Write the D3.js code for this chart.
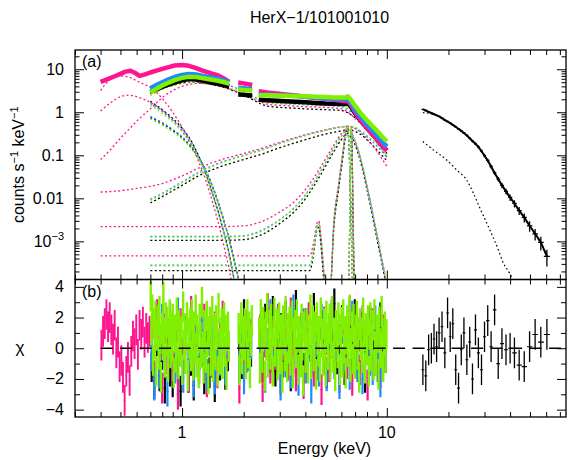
<!DOCTYPE html>
<html><head><meta charset="utf-8">
<script src="https://cdn.jsdelivr.net/npm/d3@7"></script>
<style>
body{margin:0;background:#fff}
svg{display:block}
text{font-family:"Liberation Sans",Arial,Helvetica,sans-serif;fill:#000}
</style></head>
<body><svg id="c" width="568" height="460"></svg>
<script>
// ---------------- DATA ----------------
const colors = {black:"#000000", pink:"#ff1490", blue:"#1a8cff", green:"#80f000"};
const drawOrder = ["black","pink","blue","green"];

// XIS spectra (counts s^-1 keV^-1); null = gap in data
const xisE = [0.40,0.43,0.46,0.50,0.53,0.56,0.59,0.62,0.66,0.70,0.75,0.80,0.86,0.92,1.00,1.08,1.17,1.27,1.38,1.50,1.60,1.70,1.79,1.88,2.00,2.10,2.20,2.28,2.37,2.60,2.90,3.20,3.60,4.00,4.50,5.00,5.50,6.00,6.30,6.45,6.70,7.00,7.50,8.00,8.50,9.00,9.50,10.0];
const pinkData  = [5.1,5.8,6.6,7.8,8.8,9.2,8.2,7.0,7.6,8.4,9.3,10.2,11.2,12.2,12.6,12.0,10.6,9.2,8.1,7.2,6.1,5.1,null,4.9,4.7,4.5,4.3,null,3.1,2.9,2.75,2.6,2.45,2.3,2.15,2.05,1.95,1.85,1.8,1.85,1.45,1.0,0.64,0.43,0.31,0.23,0.17,0.13];
const blueData  = [null,null,null,null,null,null,null,null,null,3.6,4.3,5.0,5.8,6.6,7.4,7.8,7.6,7.0,6.5,6.0,5.5,5.0,null,3.7,3.6,3.5,3.4,null,2.6,2.55,2.5,2.45,2.4,2.3,2.2,2.1,2.05,2.0,2.0,2.1,1.6,1.15,0.75,0.52,0.38,0.28,0.21,0.16];
const greenData = [null,null,null,null,null,null,null,null,null,2.9,3.5,4.2,4.9,5.6,6.3,6.7,6.6,6.2,5.8,5.4,5.0,4.6,null,3.4,3.3,3.25,3.2,null,2.5,2.5,2.45,2.42,2.4,2.35,2.3,2.25,2.2,2.2,2.2,2.35,1.9,1.4,0.92,0.65,0.48,0.36,0.27,0.21];
const blackData = [null,null,null,null,null,null,null,null,null,3.0,3.4,3.9,4.4,4.9,5.5,5.9,5.8,5.4,5.0,4.6,4.3,4.0,null,2.6,2.55,2.5,2.45,null,1.95,1.9,1.85,1.8,1.75,1.7,1.65,1.6,1.58,1.55,1.55,1.65,1.3,0.95,0.62,0.43,0.31,0.23,0.17,0.13];

// model components, rows: [E, pink, blue, green, black]
const compPL = [
 [0.40,0.08,null,null,null],[0.45,0.14,null,null,null],[0.50,0.25,null,null,null],[0.55,0.40,null,null,null],[0.60,0.62,null,null,null],
 [0.70,1.2,2.9,2.4,2.7],[0.80,2.2,4.0,3.4,3.6],[0.90,3.2,4.8,4.1,4.3],[1.00,4.0,5.4,4.6,4.8],[1.10,4.5,5.7,4.9,5.0],
 [1.20,4.7,5.7,4.95,4.9],[1.40,4.4,5.2,4.6,4.4],[1.60,3.8,4.5,4.0,3.8],[1.80,3.2,3.8,3.4,3.1],[2.00,2.6,3.0,2.8,2.5],
 [2.20,2.1,2.4,2.3,2.0],[2.40,1.75,1.95,1.9,1.6],[2.60,1.55,1.7,1.7,1.4],[3.00,1.45,1.6,1.6,1.3],[3.50,1.4,1.55,1.55,1.25],
 [4.00,1.35,1.5,1.5,1.2],[5.00,1.3,1.45,1.45,1.15],[6.00,1.2,1.35,1.4,1.1],[7.00,0.72,0.85,0.95,0.75],[8.00,0.38,0.47,0.55,0.42],
 [9.00,0.19,0.25,0.3,0.22],[10.0,0.09,0.12,0.15,0.11]];
const compSoft = [
 [0.40,3.2,null,null,null],[0.45,6.0,null,null,null],[0.50,7.0,null,null,null],[0.55,6.6,null,null,null],[0.60,5.4,null,null,null],[0.65,4.5,null,null,null],
 [0.70,3.8,1.6,1.45,1.8],[0.80,2.1,1.05,0.95,1.15],[0.90,1.0,0.65,0.6,0.72],[1.00,0.45,0.4,0.36,0.43],[1.10,0.19,0.22,0.2,0.23],
 [1.20,0.075,0.1,0.09,0.1],[1.30,0.028,0.04,0.036,0.04],[1.40,0.009,0.014,0.013,0.014],[1.50,0.0028,0.005,0.0045,0.005],
 [1.60,0.0008,0.0016,0.0015,0.0016],[1.70,0.00022,0.0005,0.00045,0.0005],[1.78,0.00007,0.00016,0.00015,0.00016],[1.85,null,0.00005,0.00005,0.00005]];
const compBB = [
 [0.40,1.07,null,null,null],[0.45,1.7,null,null,null],[0.50,2.3,null,null,null],[0.55,2.5,null,null,null],[0.60,2.3,null,null,null],
 [0.70,1.7,0.8,0.7,0.75],[0.80,1.1,0.58,0.5,0.55],[0.90,0.65,0.4,0.35,0.38],[1.00,0.36,0.27,0.24,0.26],[1.10,0.19,0.17,0.15,0.16],
 [1.20,0.095,0.095,0.085,0.09],[1.30,0.045,0.048,0.043,0.046],[1.40,0.02,0.021,0.019,0.02],[1.50,0.008,0.0085,0.0078,0.008],
 [1.60,0.003,0.0031,0.0029,0.003],[1.70,0.0011,0.0011,0.001,0.0011],[1.80,0.00035,0.00036,0.00034,0.00035],[1.90,0.00011,0.00011,0.000105,0.00011],[1.95,0.00005,0.00005,0.00005,0.00005]];
const compBroad = [
 [0.40,0.014,null,null,null],[0.50,0.015,null,null,null],[0.60,0.017,null,null,null],
 [0.70,0.019,0.0095,0.009,0.0078],[0.80,0.022,0.013,0.0125,0.011],[0.90,0.027,0.018,0.017,0.015],[1.00,0.033,0.024,0.023,0.02],
 [1.20,0.05,0.04,0.038,0.033],[1.50,0.075,0.065,0.062,0.052],[2.00,0.11,0.1,0.097,0.08],[2.50,0.15,0.14,0.135,0.11],
 [3.00,0.2,0.19,0.185,0.15],[4.00,0.3,0.29,0.285,0.23],[5.00,0.39,0.38,0.38,0.31],[6.00,0.46,0.45,0.46,0.37],
 [6.50,0.47,0.47,0.48,0.39],[7.00,0.42,0.43,0.45,0.36],[7.50,0.33,0.35,0.37,0.3],[8.00,0.24,0.27,0.29,0.23],
 [9.00,0.12,0.16,0.18,0.13],[10.0,0.055,0.09,0.1,0.075]];
const compFe = [
 [0.40,0.0022,null,null,null],[0.70,0.0022,0.0013,0.00125,0.00105],[1.50,0.0022,0.0013,0.00125,0.00105],
 [2.00,0.0023,0.00135,0.0013,0.0011],[2.50,0.003,0.0019,0.0018,0.0015],[3.00,0.0048,0.0032,0.0031,0.0026],
 [3.50,0.008,0.0058,0.0056,0.0047],[4.00,0.016,0.012,0.0115,0.0097],[4.50,0.035,0.028,0.027,0.023],
 [5.00,0.08,0.066,0.064,0.054],[5.50,0.17,0.145,0.14,0.12],[6.00,0.32,0.28,0.28,0.23],[6.40,0.42,0.38,0.39,0.32],
 [6.80,0.3,0.28,0.29,0.24],[7.20,0.15,0.14,0.145,0.12],[7.60,0.06,0.056,0.058,0.048],[8.00,0.02,0.019,0.02,0.016],
 [8.50,0.005,0.0048,0.005,0.004],[9.00,0.0013,0.0012,0.0013,0.001],[9.50,0.00035,0.00033,0.00035,0.00028],[10.0,0.0001,0.00009,0.0001,0.00008]];
const compLines = [
 [0.40,0.00046,null,null,null],[0.70,0.00046,0.00028,0.00027,0.00021],[4.20,0.00046,0.00028,0.00027,0.00021],
 [4.40,0.001,0.0007,0.00068,0.00055],[4.55,0.0026,0.0022,0.0021,0.0018],[4.65,0.003,0.0026,0.0025,0.0021],
 [4.75,0.0016,0.0013,0.00125,0.001],[4.90,0.0003,0.00022,0.00021,0.00016],[5.05,0.00006,0.00006,0.00006,0.00006],
 [5.30,0.00008,0.00008,0.00008,0.00008],[5.50,0.0025,0.0022,0.0021,0.0018],[5.80,0.02,0.018,0.018,0.015],
 [6.10,0.12,0.11,0.11,0.09],[6.30,0.38,0.35,0.36,0.3],[6.40,0.5,0.47,0.48,0.4],[6.50,0.32,0.3,0.31,0.26],
 [6.60,0.05,0.047,0.048,0.04],[6.70,0.004,0.0038,0.004,0.0032],[6.80,0.00015,0.00014,0.00015,0.00012],[6.85,0.00005,0.00005,0.00005,0.00005]];
const compLine67 = [
 [6.50,0.00005,0.00005,0.00005,0.00005],[6.60,0.004,0.0038,0.004,0.0032],[6.68,0.2,0.19,0.19,0.16],
 [6.72,0.45,0.42,0.43,0.36],[6.76,0.2,0.19,0.19,0.16],[6.84,0.004,0.0038,0.004,0.0032],[6.95,0.00005,0.00005,0.00005,0.00005]];
const xisComponents = [compPL, compSoft, compBB, compBroad, compFe, compLines, compLine67];

// HXD spectrum
const hxdE    = [15.0,15.5,16.0,16.5,17.0,17.5,18.0,18.6,19.2,19.8,20.4,21.0,21.7,22.4,23.1,23.8,24.6,25.4,26.2,27.1,28.0,29.0,30.0,31.1,32.3,33.6,35.0,36.5,38.2,40.0,42.0,44.3,46.9,49.8,53.0,56.5,60.5];
const hxdData = [1.17,1.10,1.02,0.96,0.90,0.85,0.80,0.73,0.66,0.61,0.56,0.51,0.46,0.41,0.37,0.33,0.29,0.25,0.215,0.185,0.157,0.125,0.098,0.076,0.055,0.039,0.028,0.020,0.0145,0.0105,0.0076,0.0052,0.0036,0.0023,0.0015,0.00095,0.00045];
const hxdErr  = [0.02,0.02,0.02,0.02,0.025,0.025,0.025,0.03,0.03,0.03,0.035,0.035,0.04,0.04,0.045,0.05,0.05,0.055,0.06,0.065,0.07,0.075,0.08,0.09,0.1,0.11,0.12,0.14,0.15,0.17,0.19,0.21,0.24,0.27,0.3,0.35,0.42];
const hxdRes  = [-1.4,-1.8,-0.1,0.0,0.6,0.1,1.0,1.4,-0.3,2.3,0.75,1.6,-1.4,-2.6,-0.1,1.0,-0.75,0.4,-2.0,1.2,-0.3,-1.4,0.75,1.8,0.1,2.5,-1.0,0.3,-0.1,0.0,-0.3,-1.1,-1.2,0.1,0.9,0.4,0.9];
const hxdModel = [[15,0.98],[16,0.95],[17,0.88],[18,0.79],[19.2,0.67],[21,0.5],[23.8,0.33],[26.2,0.21],[28,0.155],[30,0.1],[32.3,0.056],[35,0.028],[38.2,0.0145],[42,0.0075],[46.9,0.0035],[53,0.0015],[60.5,0.0005]];
const hxdComp2 = [[15,0.21],[17,0.13],[19.6,0.078],[22,0.045],[24.5,0.027],[26.5,0.013],[28.5,0.0059],[30.5,0.0029],[32.9,0.0013],[35,0.00065],[36.8,0.00034],[39.8,0.00018],[42,0.00011]];

// residual (chi) values by segment
const resSegs = [[0.7,1.7],[1.88,2.2],[2.37,10.0]];
const pinkLowSeg = [0.4,0.7];
const pinkResLow = [0.2,1.1,1.6,2.2,1.4,2.0,1.2,0.6,1.5,-0.3,0.4,-1.2,-0.8,-1.9,-3.4,-1.5,-0.6,-2.1,-0.2,0.8,0.3,1.2,-0.4,1.5,0.9,1.7,0.4,1.3,0.7,1.1];
const pinkRes = [
 [0.9,-1.8,2.2,0.4,-2.6,1.3,-0.7,2.0,-1.2,0.6,-3.0,1.6,-0.3,0.8,-1.9,2.4,-0.6,1.0,-1.4,0.2,1.9,-2.2,0.5,-0.9,1.4,-1.6,0.7,2.1,-1.0,0.3],
 [-2.6,0.8,-1.3,1.5,-0.4,0.9],
 [1.2,-2.5,0.4,2.6,-1.3,0.8,-0.4,1.9,-2.0,0.2,1.5,-1.1,2.3,-0.7,-1.8,0.9,1.3,-2.3,0.5,2.0,-0.9,-1.5,1.1,0.3,-2.7,1.7,0.6,-1.2,2.2,-0.5,0.1,-1.9,1.4,0.7,-1.0,2.4,-2.1,0.4,1.0,-1.4,1.8,-0.2,-2.4,0.9,1.6,-0.8,0.2,-1.6,1.2,-0.3]];
const blueRes = [
 [-0.5,-2.4,0.8,-1.6,1.9,-0.9,-2.8,0.4,1.2,-1.3,2.3,-0.2,-1.9,0.9,-0.7,1.5,-2.2,0.3,-1.1,1.8,-0.4,-1.7,0.6,1.1,-2.0,0.2,-0.8,1.4,-1.4,0.5],
 [-1.2,0.7,-2.0,1.1,-0.5,0.3],
 [-0.6,1.4,-1.9,0.3,2.2,-1.1,-0.2,1.7,-2.4,0.6,-0.9,1.2,-1.6,2.5,-0.3,-2.1,0.9,1.6,-1.3,0.1,-2.6,1.0,0.4,-1.5,1.9,-0.7,-1.8,0.8,2.0,-1.0,0.2,-2.3,1.3,-0.5,0.7,-1.7,2.1,-0.1,-1.2,1.5,-2.0,0.5,1.1,-0.8,-1.4,1.8,0.0,-2.2,0.9,-0.4]];
const greenRes = [
 [3.4,1.2,2.5,-0.8,1.6,0.3,2.1,-1.5,0.9,1.8,-0.4,2.4,0.6,-1.9,1.3,0.2,3.3,1.0,-0.9,2.0,
  0.5,1.7,-1.2,0.8,2.2,-0.3,1.4,0.1,1.9,-1.6,0.7,1.2,-0.6,2.3,0.4,-1.0,1.5,0.9,-0.2,1.1,
  -1.4,2.7,0.2,1.3,-0.7,0.6,2.0,-1.8,1.0,0.3,1.6,-0.5,2.2,0.8,-1.1,1.4,0.0,2.5,-0.9,1.2,
  0.5,-1.6,1.9,0.7,-0.3,3.0,0.1,-1.3,1.5,0.9,-0.6,2.1,0.4,-2.0,1.1,1.7,-0.8,0.6,2.4,-1.2,
  0.2,1.3,-0.4,1.8,0.9,-1.5,2.6,0.3,-0.7,1.0,1.6,-1.0,0.5,2.0,-0.2,1.2,-1.7,0.8,1.4,0.1],
 [1.3,-1.4,0.6,2.0,-0.7,1.1,0.2,1.6,-1.0,0.9,2.2,-0.3,1.4,-1.6,0.5,1.8],
 [1.0,-1.3,2.2,0.4,-0.6,1.7,0.9,-1.8,1.4,0.2,2.6,-0.9,0.7,1.5,-0.4,1.9,0.3,-1.5,1.1,2.3,
  -0.2,0.8,1.6,-1.1,0.5,2.0,-0.7,1.2,0.1,-1.9,1.8,0.6,-0.5,2.4,0.9,-1.2,1.3,0.0,1.7,-0.8,
  0.4,2.1,-1.6,1.0,0.3,1.5,-0.3,2.2,0.7,-1.4,1.1,0.5,-0.9,1.9,0.2,-2.1,1.4,0.8,-0.6,1.6,
  0.0,-1.3,1.2,0.6,2.5,-1.0,0.9,1.8,-0.5,0.3,1.4,-1.7,2.0,0.6,-0.2,1.1,-1.2,2.3,0.4,0.9,
  -0.8,1.6,0.1,-1.5,2.1,0.7,-0.4,1.3,1.9,-1.1,0.5,2.4,-0.6,1.0,0.2,-1.8,1.5,0.8,-0.3,2.0,
  1.2,-1.4,0.4,1.7,-0.9,2.2,0.0,1.1,-1.6,0.6,1.8,-0.2,0.9,2.5,-1.2,0.3,1.4,-0.7,1.9,0.5,
  -1.0,1.2,2.1,-0.4,0.7,-1.9,1.6,0.2,1.0,-0.6,2.3,0.8,-1.3,1.3,0.4,-0.1,1.8,-1.5,0.9,2.0,
  -0.5,0.6,1.5,-1.1,2.2,0.1,-0.8,1.2,0.7,-1.7,1.7,0.3,-0.3,2.4,1.0,-1.2,0.5,1.4,-0.6,0.9]];
const blackRes = [
 [-1.2,-2.3,0.5,-1.8,-0.4,-2.6,0.9,-1.5,-2.2,0.2,-1.0,-2.8,-0.6,1.1,-1.9,-0.8,-2.4,0.4,-1.3,-0.2,-2.0,0.7,-1.6,-0.9,-2.5,0.1,-1.1,1.4,-1.7,-0.5],
 [0.4,-1.0,2.2,-0.6,1.2,-0.2],
 [0.8,-1.2,1.9,0.2,-0.6,2.4,-1.5,0.5,1.3,-0.9,2.1,0.0,-1.8,1.0,2.8,-0.4,0.7,-1.3,1.6,0.3,-0.8,2.6,-1.1,0.9,1.5,-0.2,-1.6,1.2,0.4,2.9,-0.7,0.6,1.8,-1.4,0.1,1.1,-0.5,2.2,-1.0,0.8,1.4,-1.9,0.3,1.7,-0.3,0.9,-1.2,2.0,0.2,-0.6]];

const yTickVals = [10,1,0.1,0.01,0.001];
const yTickLabels = ["10","1","0.1","0.01","10^-3"];
const xTickVals = [1,10];
const xTickLabels = ["1","10"];
const chiTickVals = [4,2,0,-2,-4];
const chiTickLabels = ["4","2","0","\u22122","\u22124"];

// ---------------- LAYOUT ----------------
const L=75, R=566, T=50, M=279.5, B=417;
const svg = d3.select("#c");
const x  = d3.scaleLog().domain([0.3,75]).range([L,R]);
const y  = d3.scaleLog().domain([1.3e-4,28]).range([M,T]);
const yr = d3.scaleLinear().domain([-4.48,4.48]).range([B,M]);

const defs = svg.append("defs");
defs.append("clipPath").attr("id","clipTop").append("rect").attr("x",L).attr("y",T).attr("width",R-L).attr("height",M-T);
defs.append("clipPath").attr("id","clipBot").append("rect").attr("x",L).attr("y",M).attr("width",R-L).attr("height",B-M);

const gTop = svg.append("g").attr("clip-path","url(#clipTop)");
const gBot = svg.append("g").attr("clip-path","url(#clipBot)");

const colIdx = {pink:1, blue:2, green:3, black:4};
const dataByColor = {pink:pinkData, blue:blueData, green:greenData, black:blackData};
const resByColor = {pink:pinkRes, blue:blueRes, green:greenRes, black:blackRes};

const modelLine = d3.line().x(d=>x(d[0])).y(d=>y(d[1])).curve(d3.curveMonotoneX);
const dataLine = d3.line().defined(d=>d[1]!=null).x(d=>x(d[0])).y(d=>y(d[1]));

// model components (dotted)
drawOrder.forEach(c=>{
  xisComponents.forEach(comp=>{
    const pts = comp.filter(r=>r[colIdx[c]]!=null).map(r=>[r[0], r[colIdx[c]]]);
    gTop.append("path").attr("d",modelLine(pts)).attr("fill","none")
      .attr("stroke",colors[c]).attr("stroke-width",1.3).attr("stroke-dasharray","2,2.4");
  });
});
// HXD model components
[hxdComp2, hxdModel].forEach(comp=>{
  gTop.append("path").attr("d",modelLine(comp)).attr("fill","none")
    .attr("stroke","#000").attr("stroke-width",1.2).attr("stroke-dasharray","1.6,2.6");
});

// XIS data bands
drawOrder.forEach(c=>{
  const pts = xisE.map((e,i)=>[e, dataByColor[c][i]]);
  gTop.append("path").attr("d",dataLine(pts)).attr("fill","none")
    .attr("stroke",colors[c]).attr("stroke-width",4.5).attr("stroke-linejoin","round");
});

// HXD data crosses
function edgesOf(E){
  return E.map((e,i)=>{
    const lo = i>0 ? Math.sqrt(E[i-1]*e) : e*e/Math.sqrt(e*E[i+1]);
    const hi = i<E.length-1 ? Math.sqrt(E[i+1]*e) : e*e/Math.sqrt(e*E[i-1]);
    return [lo,hi];
  });
}
const hxdEdges = edgesOf(hxdE);
gTop.append("path").attr("d",d3.line().x(d=>x(d[0])).y(d=>y(d[1]))(hxdE.map((e,i)=>[e,hxdData[i]])))
  .attr("fill","none").attr("stroke","#000").attr("stroke-width",2);
hxdE.forEach((e,i)=>{
  const v=hxdData[i], er=hxdErr[i];
  gTop.append("line").attr("x1",x(hxdEdges[i][0])).attr("x2",x(hxdEdges[i][1])).attr("y1",y(v)).attr("y2",y(v)).attr("stroke","#000").attr("stroke-width",1.3);
  gTop.append("line").attr("x1",x(e)).attr("x2",x(e)).attr("y1",y(v*(1-er))).attr("y2",y(v*(1+er))).attr("stroke","#000").attr("stroke-width",1.3);
});

// ---------- residuals ----------
function drawSeg(g, seg, vals, color, w){
  const lo=Math.log10(seg[0]), hi=Math.log10(seg[1]), n=vals.length, step=(hi-lo)/n;
  vals.forEach((v,i)=>{
    const e0=Math.pow(10,lo+i*step), e1=Math.pow(10,lo+(i+1)*step), ec=Math.pow(10,lo+(i+0.5)*step);
    g.append("line").attr("x1",x(ec)).attr("x2",x(ec)).attr("y1",yr(v-1)).attr("y2",yr(v+1)).attr("stroke",color).attr("stroke-width",w);
    g.append("line").attr("x1",x(e0)).attr("x2",x(e1)).attr("y1",yr(v)).attr("y2",yr(v)).attr("stroke",color).attr("stroke-width",1);
  });
}
drawSeg(gBot, pinkLowSeg, pinkResLow, colors.pink, 1.9);
drawOrder.forEach(c=>{
  resSegs.forEach((seg,k)=>drawSeg(gBot, seg, resByColor[c][k], colors[c], c==="green"?2.4:2.2));
});
// HXD residual crosses
hxdE.forEach((e,i)=>{
  const v=hxdRes[i];
  gBot.append("line").attr("x1",x(hxdEdges[i][0])).attr("x2",x(hxdEdges[i][1])).attr("y1",yr(v)).attr("y2",yr(v)).attr("stroke","#000").attr("stroke-width",1.1);
  gBot.append("line").attr("x1",x(e)).attr("x2",x(e)).attr("y1",yr(v-1)).attr("y2",yr(v+1)).attr("stroke","#000").attr("stroke-width",1.3);
});
gBot.append("line").attr("x1",x(0.4)).attr("x2",R).attr("y1",yr(0)).attr("y2",yr(0))
  .attr("stroke","#000").attr("stroke-width",1.4).attr("stroke-dasharray","12,7.5");

// ---------------- AXES ----------------
const xMinor=[], yMinor=[];
[0.1,1,10].forEach(d=>{for(let m=2;m<=9;m++){const v=m*d; if(v>=0.3&&v<=75) xMinor.push(v);}});
[-4,-3,-2,-1,0,1].forEach(p=>{for(let m=2;m<=9;m++){const v=m*Math.pow(10,p); if(v>=1.3e-4&&v<=28) yMinor.push(v);}});
const yMajor=[0.001,0.01,0.1,1,10];
const chiMajor=[-4,-2,0,2,4], chiMinor=[-3,-1,1,3];

function tickAxis(gen, vals, size, tr){
  svg.append("g").attr("transform",tr)
    .call(gen.tickValues(vals).tickSize(size).tickFormat(""))
    .call(g=>{g.select(".domain").remove(); g.selectAll("line").attr("stroke","#000").attr("stroke-width",1);});
}
// top panel
tickAxis(d3.axisTop(x), xTickVals, -9, `translate(0,${T})`);
tickAxis(d3.axisTop(x), xMinor, -5, `translate(0,${T})`);
tickAxis(d3.axisBottom(x), xTickVals, -9, `translate(0,${M})`);
tickAxis(d3.axisBottom(x), xMinor, -5, `translate(0,${M})`);
tickAxis(d3.axisLeft(y), yMajor, -9, `translate(${L},0)`);
tickAxis(d3.axisLeft(y), yMinor, -4.5, `translate(${L},0)`);
tickAxis(d3.axisRight(y), yMajor, -9, `translate(${R},0)`);
tickAxis(d3.axisRight(y), yMinor, -4.5, `translate(${R},0)`);
// bottom panel
tickAxis(d3.axisTop(x), xTickVals, -9, `translate(0,${M})`);
tickAxis(d3.axisTop(x), xMinor, -5, `translate(0,${M})`);
tickAxis(d3.axisBottom(x), xTickVals, -9, `translate(0,${B})`);
tickAxis(d3.axisBottom(x), xMinor, -5, `translate(0,${B})`);
tickAxis(d3.axisLeft(yr), chiMajor, -9, `translate(${L},0)`);
tickAxis(d3.axisLeft(yr), chiMinor, -5, `translate(${L},0)`);
tickAxis(d3.axisRight(yr), chiMajor, -9, `translate(${R},0)`);
tickAxis(d3.axisRight(yr), chiMinor, -5, `translate(${R},0)`);

// frames
svg.append("rect").attr("x",L).attr("y",T).attr("width",R-L).attr("height",M-T).attr("fill","none").attr("stroke","#000").attr("stroke-width",1.3);
svg.append("rect").attr("x",L).attr("y",M).attr("width",R-L).attr("height",B-M).attr("fill","none").attr("stroke","#000").attr("stroke-width",1.3);

// tick labels
const FS=16;
yTickVals.forEach((v,i)=>{
  const lab=yTickLabels[i];
  const t=svg.append("text").attr("x",64).attr("y",y(v)+5.5).attr("text-anchor","end").attr("font-size",FS);
  if(lab.includes("^")){
    const [b,e]=lab.split("^");
    t.append("tspan").text(b);
    t.append("tspan").attr("font-size",11).attr("dy",-7).text(e.replace("-","\u2212"));
  } else t.text(lab);
});
chiTickVals.forEach((v,i)=>{
  svg.append("text").attr("x",64).attr("y",yr(v)+5.5).attr("text-anchor","end").attr("font-size",FS).text(chiTickLabels[i]);
});
xTickVals.forEach((v,i)=>{
  svg.append("text").attr("x",x(v)).attr("y",438).attr("text-anchor","middle").attr("font-size",FS).text(xTickLabels[i]);
});

// titles & labels
svg.append("text").attr("x",(L+R)/2-1).attr("y",23).attr("text-anchor","middle").attr("font-size",16).text("HerX\u22121/101001010");
svg.append("text").attr("x",(L+R)/2+4).attr("y",454).attr("text-anchor","middle").attr("font-size",FS).text("Energy (keV)");
const yl=svg.append("text").attr("transform",`translate(24,${(T+M)/2}) rotate(-90)`).attr("text-anchor","middle").attr("font-size",FS);
yl.append("tspan").text("counts s");
yl.append("tspan").attr("font-size",11).attr("dy",-6).text("\u22121");
yl.append("tspan").attr("dy",6).text(" keV");
yl.append("tspan").attr("font-size",11).attr("dy",-6).text("\u22121");
svg.append("text").attr("x",20).attr("y",yr(0)+5).attr("text-anchor","middle").attr("font-size",17).text("\u03c7");
svg.append("text").attr("x",82).attr("y",67).attr("font-size",FS).text("(a)");
svg.append("text").attr("x",82).attr("y",297).attr("font-size",FS).text("(b)");
</script>
</body></html>
